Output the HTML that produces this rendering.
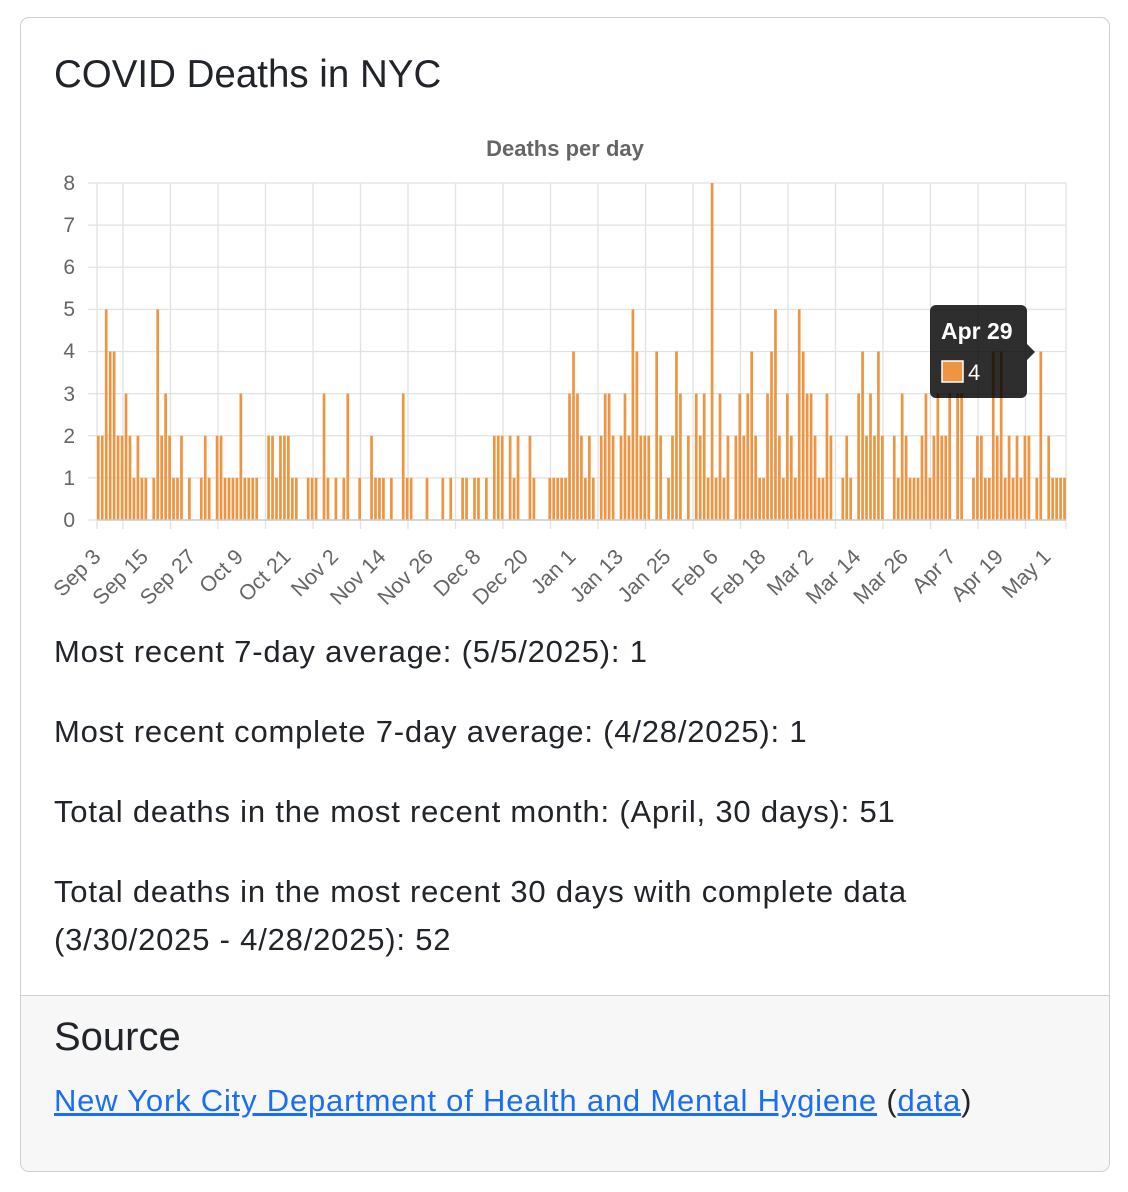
<!DOCTYPE html>
<html><head><meta charset="utf-8"><style>
body{margin:0;background:#fff;width:1128px;height:1192px;position:relative;font-family:"Liberation Sans",Arial,sans-serif;color:#212529;overflow:hidden}
.card{position:absolute;left:20px;top:17px;width:1088px;height:1153px;border:1.5px solid #cfcfcf;border-radius:9px;overflow:hidden}
.foot{position:absolute;left:0;right:0;top:977px;bottom:0;background:#f7f7f7;border-top:1.5px solid #cfcfcf}
h1{position:absolute;left:33px;top:35px;margin:0;font-size:38.5px;font-weight:400}
.p{position:absolute;left:33px;font-size:31px;letter-spacing:0.8px;line-height:48px;margin:0;white-space:nowrap}
h2{position:absolute;left:33px;top:19px;margin:0;font-size:40px;font-weight:400}
a{color:#1a6ef5}
svg{position:absolute;left:0;top:0}
</style></head><body>
<div class="card">
<h1>COVID Deaths in NYC</h1>
<p class="p" style="top:610px">Most recent 7-day average: (5/5/2025): 1</p>
<p class="p" style="top:690px">Most recent complete 7-day average: (4/28/2025): 1</p>
<p class="p" style="top:770px">Total deaths in the most recent month: (April, 30 days): 51</p>
<p class="p" style="top:850px">Total deaths in the most recent 30 days with complete data<br>(3/30/2025 - 4/28/2025): 52</p>
<div class="foot"><h2>Source</h2>
<p class="p" style="top:81px"><a href="#">New York City Department of Health and Mental Hygiene</a> (<a href="#">data</a>)</p></div>
</div>
<svg id="c" width="1128" height="640" font-family="Liberation Sans,Arial,sans-serif">
<text x="565" y="156" text-anchor="middle" font-size="22" font-weight="bold" fill="#666">Deaths per day</text>
<g id="grid" stroke="#e2e2e2" stroke-width="1.3"></g>
<g font-size="21" fill="#666" text-anchor="end">
<text x="75" y="527">0</text><text x="75" y="485">1</text><text x="75" y="443">2</text><text x="75" y="401">3</text><text x="75" y="358">4</text><text x="75" y="316">5</text><text x="75" y="274">6</text><text x="75" y="232">7</text><text x="75" y="190">8</text>
</g>
<g id="bars" fill="#ef9440"></g>
<g font-size="21.5" fill="#666" text-anchor="end">
<text transform="translate(102,558) rotate(-45)">Sep 3</text>
<text transform="translate(149.5,558) rotate(-45)">Sep 15</text>
<text transform="translate(197,558) rotate(-45)">Sep 27</text>
<text transform="translate(244.5,558) rotate(-45)">Oct 9</text>
<text transform="translate(292,558) rotate(-45)">Oct 21</text>
<text transform="translate(339.5,558) rotate(-45)">Nov 2</text>
<text transform="translate(387,558) rotate(-45)">Nov 14</text>
<text transform="translate(434.5,558) rotate(-45)">Nov 26</text>
<text transform="translate(482,558) rotate(-45)">Dec 8</text>
<text transform="translate(529.5,558) rotate(-45)">Dec 20</text>
<text transform="translate(577,558) rotate(-45)">Jan 1</text>
<text transform="translate(624.5,558) rotate(-45)">Jan 13</text>
<text transform="translate(672,558) rotate(-45)">Jan 25</text>
<text transform="translate(719.5,558) rotate(-45)">Feb 6</text>
<text transform="translate(767,558) rotate(-45)">Feb 18</text>
<text transform="translate(814.5,558) rotate(-45)">Mar 2</text>
<text transform="translate(862,558) rotate(-45)">Mar 14</text>
<text transform="translate(909.5,558) rotate(-45)">Mar 26</text>
<text transform="translate(957,558) rotate(-45)">Apr 7</text>
<text transform="translate(1004.5,558) rotate(-45)">Apr 19</text>
<text transform="translate(1052,558) rotate(-45)">May 1</text>
</g>
<g>
<path d="M936 305 H1021 a6 6 0 0 1 6 6 V344 L1035 352 L1027 360 V392 a6 6 0 0 1 -6 6 H936 a6 6 0 0 1 -6 -6 V311 a6 6 0 0 1 6 -6Z" fill="rgba(0,0,0,0.82)"/>
<text x="941" y="339" font-size="23" font-weight="bold" fill="#fff">Apr 29</text>
<rect x="942" y="361" width="21" height="21" fill="#ef9440" stroke="#fff" stroke-width="1.5"/>
<text x="968" y="380" font-size="22" fill="#fff">4</text>
</g>
</svg>
<script>
var d={0:2,1:2,2:5,3:4,4:4,5:2,6:2,7:3,8:2,9:1,10:2,11:1,12:1,14:1,15:5,16:2,17:3,18:2,19:1,20:1,21:2,23:1,26:1,27:2,28:1,30:2,31:2,32:1,33:1,34:1,35:1,36:3,37:1,38:1,39:1,40:1,43:2,44:2,45:1,46:2,47:2,48:2,49:1,50:1,53:1,54:1,55:1,57:3,58:1,
60:1,62:1,63:3,66:1,69:2,70:1,71:1,72:1,74:1,77:3,78:1,79:1,83:1,87:1,89:1,92:1,93:1,95:1,96:1,98:1,100:2,101:2,102:2,104:2,105:1,106:2,109:2,110:1,114:1,115:1,116:1,117:1,118:1,
119:3,120:4,121:3,122:2,123:1,124:2,125:1,127:2,128:3,129:3,130:2,132:2,133:3,134:2,135:5,136:4,137:2,138:2,139:2,141:4,142:2,144:1,145:2,146:4,147:3,149:2,151:3,152:2,153:3,154:1,155:8,156:1,157:3,158:1,159:2,161:2,162:3,163:2,164:3,165:4,166:2,167:1,168:1,169:3,170:4,171:5,172:2,173:1,174:3,175:2,176:1,177:5,178:4,179:3,180:3,181:2,182:1,
183:1,184:3,185:2,188:1,189:2,190:1,192:3,193:4,194:2,195:3,196:2,197:4,198:2,201:2,202:1,203:3,204:2,205:1,206:1,207:1,208:2,209:3,210:1,211:2,212:3,213:2,214:2,215:3,217:3,218:3,221:1,222:2,223:2,224:1,225:1,226:4,227:2,228:4,229:1,230:2,231:1,232:2,233:1,234:2,235:2,237:1,238:4,240:2,241:1,242:1,243:1,244:1};
var ns="http://www.w3.org/2000/svg",g=document.getElementById('grid'),b=document.getElementById('bars');
function L(x1,y1,x2,y2){var l=document.createElementNS(ns,'line');l.setAttribute('x1',x1);l.setAttribute('y1',y1);l.setAttribute('x2',x2);l.setAttribute('y2',y2);g.appendChild(l);}
for(var k=0;k<=8;k++){var y=520-42.125*k;L(88,y,1066,y);}
L(97,183,97,529);L(1066,183,1066,529);
for(var k=0;k<20;k++){var x=123+47.5*k;L(x,183,x,529);}
for(var i=0;i<245;i++){if(d[i]){var r=document.createElementNS(ns,'rect');var h=d[i]*42.125;r.setAttribute('x',98.3+3.96*i-1.35);r.setAttribute('y',520-h);r.setAttribute('width',2.7);r.setAttribute('height',h);b.appendChild(r);}}
var ax=document.createElementNS(ns,'line');ax.setAttribute('x1',97);ax.setAttribute('x2',1066);ax.setAttribute('y1',520);ax.setAttribute('y2',520);ax.setAttribute('stroke','#ccc');ax.setAttribute('stroke-width','1.5');b.appendChild(ax);
</script>
</body></html>
